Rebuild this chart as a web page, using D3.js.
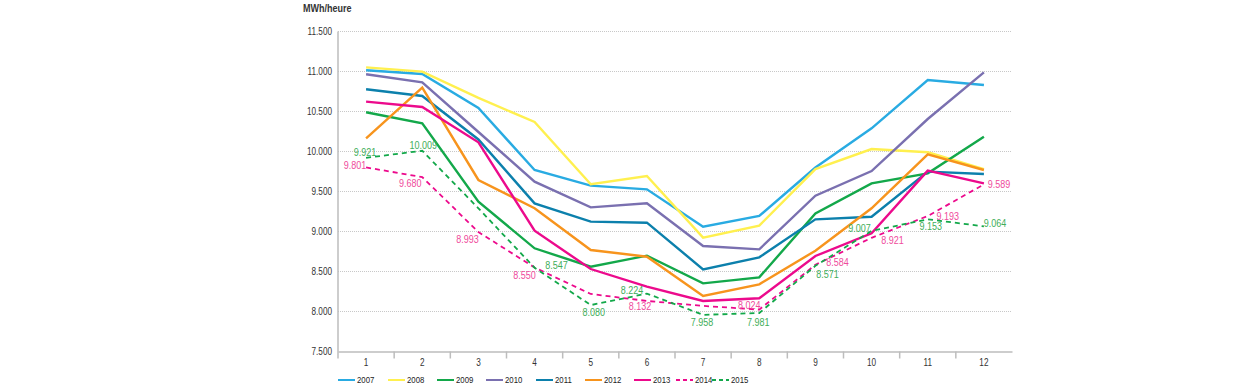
<!DOCTYPE html>
<html>
<head>
<meta charset="utf-8">
<script src="https://cdn.jsdelivr.net/npm/d3@7/dist/d3.min.js"></script>
<style>
  body { margin: 0; background: #fff; }
  text { font-family: "Liberation Sans", Arial, sans-serif; }
</style>
</head>
<body>
<svg id="chart" width="1250" height="387"></svg>
<script>
// months on the x axis
const months = [1, 2, 3, 4, 5, 6, 7, 8, 9, 10, 11, 12];
const yTicks = [7500, 8000, 8500, 9000, 9500, 10000, 10500, 11000, 11500];

// MWh/heure per year
const v2007 = [11015, 10969, 10544, 9769, 9573, 9527, 9060, 9194, 9800, 10290, 10894, 10831];
const v2008 = [11052, 10998, 10670, 10369, 9590, 9694, 8923, 9073, 9780, 10031, 9990, 9780];
const v2009 = [10490, 10352, 9373, 8790, 8560, 8698, 8352, 8427, 9227, 9602, 9727, 10185];
const v2010 = [10965, 10865, 10244, 9623, 9302, 9352, 8819, 8777, 9448, 9756, 10406, 10990];
const v2011 = [10778, 10694, 10150, 9352, 9123, 9110, 8527, 8677, 9152, 9185, 9748, 9719];
const v2012 = [10165, 10798, 9644, 9290, 8769, 8685, 8194, 8340, 8760, 9290, 9965, 9769];
const v2013 = [10623, 10556, 10115, 9010, 8531, 8310, 8131, 8165, 8694, 8977, 9760, 9602];
const v2014 = [9801, 9680, 8993, 8550, 8219, 8132, 8070, 8024, 8584, 8921, 9193, 9589];
const v2015 = [9921, 10009, 9290, 8547, 8080, 8224, 7958, 7981, 8571, 9007, 9153, 9064];

// which months carry a value label (dashed years only)
const labels2014 = [1, 2, 3, 4, 6, 8, 9, 10, 11, 12];
const labels2015 = [1, 2, 4, 5, 6, 7, 8, 9, 10, 11, 12];

const series = [
  { name: '2007', values: v2007, color: '#29abe2', dashed: false },
  { name: '2008', values: v2008, color: '#fff04f', dashed: false },
  { name: '2009', values: v2009, color: '#13a84a', dashed: false },
  { name: '2010', values: v2010, color: '#7a70b0', dashed: false },
  { name: '2011', values: v2011, color: '#0c80ac', dashed: false },
  { name: '2012', values: v2012, color: '#f7941d', dashed: false },
  { name: '2013', values: v2013, color: '#ec0a8c', dashed: false },
  { name: '2014', values: v2014, color: '#ec0a8c', dashed: true, labels: labels2014, labelColor: '#ef4b9c' },
  { name: '2015', values: v2015, color: '#13a84a', dashed: true, labels: labels2015, labelColor: '#3fae5a' }
];

// label offsets from the point, by month (layout only)
const off2014 = { 1: [-11, -2], 2: [-12, 6], 3: [-11, 7], 4: [-10, 8], 6: [-7, 5], 8: [-10, -4],
                  9: [22, -3], 10: [21, 2], 11: [20, 0], 12: [15, 0] };
const off2015 = { 1: [-1, -6], 2: [1, -6], 4: [22, -3], 5: [3, 7], 6: [-15, -3], 7: [-1, 7],
                  8: [-1, 9], 9: [12, 8], 10: [-12, -3], 11: [3, 7], 12: [11, -3] };

const fr = d3.formatLocale({ decimal: ',', thousands: '.', grouping: [3], currency: ['', ' €'] });
const fmt = fr.format(',');

// squeeze text horizontally to get a narrow face
function narrow(sel, k = 0.82) {
  sel.each(function () {
    const t = d3.select(this);
    const tx = +t.attr('x') || 0;
    t.attr('x', 0).attr('transform', `translate(${tx},0) scale(${k},1)`);
  });
}

const svg = d3.select('#chart');
const plotLeft = 338, plotRight = 1012, plotTop = 31.5, plotBottom = 351.5;

const x = d3.scaleBand().domain(months).range([plotLeft, plotRight]);
const y = d3.scaleLinear().domain([7500, 11500]).range([plotBottom, plotTop]);
const cx = m => x(m) + x.bandwidth() / 2;

// gridlines
svg.append('g')
  .selectAll('line')
  .data(yTicks.filter(t => t > 7500))
  .join('line')
  .attr('x1', plotLeft).attr('x2', plotRight)
  .attr('y1', d => y(d)).attr('y2', d => y(d))
  .attr('stroke', '#c8c8c8')
  .attr('stroke-width', 1)
  .attr('stroke-dasharray', '1,1');

// y axis
const yAxis = svg.append('g')
  .attr('transform', `translate(${plotLeft},0)`)
  .call(d3.axisLeft(y).tickValues(yTicks).tickSize(0).tickPadding(6).tickFormat(fmt));
yAxis.select('.domain').attr('stroke', '#bdbdbd').attr('stroke-width', 1.5)
  .attr('d', `M0,${plotTop}V${plotBottom + 7}`);
yAxis.selectAll('text').attr('font-size', 10).attr('fill', '#333').call(narrow);

// x axis
const xAxis = svg.append('g')
  .attr('transform', `translate(0,${plotBottom})`)
  .call(d3.axisBottom(x).tickSize(0).tickPadding(7));
xAxis.select('.domain').attr('stroke', '#bdbdbd').attr('stroke-width', 1.5);
xAxis.selectAll('text').attr('font-size', 10).attr('fill', '#333').call(narrow);
xAxis.append('g')
  .selectAll('line')
  .data(months.slice(1))
  .join('line')
  .attr('x1', d => x(d)).attr('x2', d => x(d))
  .attr('y1', 0).attr('y2', 7)
  .attr('stroke', '#bdbdbd')
  .attr('stroke-width', 1.5);

// unit
svg.append('text')
  .attr('x', 303).attr('y', 12)
  .attr('font-size', 11)
  .attr('font-weight', 'bold')
  .attr('fill', '#333')
  .text('MWh/heure')
  .call(narrow);

// lines
const line = d3.line()
  .x((d, i) => cx(months[i]))
  .y(d => y(d));

svg.append('g')
  .selectAll('path')
  .data(series)
  .join('path')
  .attr('d', d => line(d.values))
  .attr('fill', 'none')
  .attr('stroke', d => d.color)
  .attr('stroke-width', d => d.dashed ? 1.8 : 2.4)
  .attr('stroke-dasharray', d => d.dashed ? '5,4' : null)
  .attr('stroke-linejoin', 'miter');

// value labels for 2014 and 2015
const offsets = { '2014': off2014, '2015': off2015 };
series.filter(s => s.labels).forEach(s => {
  svg.append('g')
    .selectAll('text')
    .data(s.labels)
    .join('text')
    .attr('x', m => cx(m) + offsets[s.name][m][0])
    .attr('y', m => y(s.values[m - 1]) + offsets[s.name][m][1])
    .attr('text-anchor', 'middle')
    .attr('dominant-baseline', 'central')
    .attr('font-size', 11)
    .attr('fill', s.labelColor)
    .text(m => fmt(s.values[m - 1]))
    .call(narrow);
});

// legend
const legendX = [338, 388, 437, 486, 536, 585, 634, 676, 712];
const legend = svg.append('g').attr('transform', 'translate(0,380)');
series.forEach((s, i) => {
  const g = legend.append('g').attr('transform', `translate(${legendX[i]},0)`);
  g.append('line')
    .attr('x1', 0).attr('x2', 17)
    .attr('y1', 0).attr('y2', 0)
    .attr('stroke', s.color)
    .attr('stroke-width', 2)
    .attr('stroke-dasharray', s.dashed ? '4,3' : null);
  g.append('text')
    .attr('x', 19).attr('y', 0)
    .attr('dominant-baseline', 'central')
    .attr('font-size', 9.5)
    .attr('fill', '#222')
    .text(s.name)
    .call(narrow);
});
</script>
</body>
</html>
